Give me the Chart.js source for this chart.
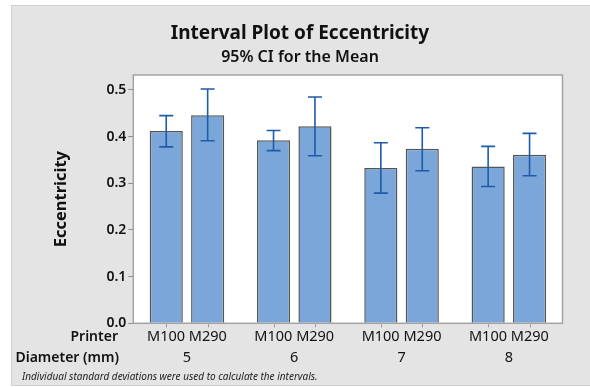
<!DOCTYPE html>
<html>
<head>
<meta charset="utf-8">
<script src="https://cdn.jsdelivr.net/npm/chart.js@4.4.1/dist/chart.umd.min.js"></script>
<style>
html, body { margin: 0; padding: 0; background: #fff; }
#wrap { width: 590px; height: 387px; }
</style>
</head>
<body>
<div id="wrap"><canvas id="chart"></canvas></div>
<script>
// Data
const diameters = ['5', '6', '7', '8'];
const printers = ['M100', 'M290'];
const m100Mean = [0.412, 0.392, 0.333, 0.336];
const m100Lower = [0.378, 0.370, 0.279, 0.293];
const m100Upper = [0.445, 0.413, 0.387, 0.379];
const m290Mean = [0.446, 0.422, 0.374, 0.361];
const m290Lower = [0.391, 0.359, 0.327, 0.316];
const m290Upper = [0.502, 0.485, 0.419, 0.407];
const yTicks = [0, 0.1, 0.2, 0.3, 0.4, 0.5];

const fontFamily = "'Noto Sans', 'Open Sans', sans-serif";
Chart.defaults.font.family = fontFamily;
Chart.defaults.color = '#111';

// Panel background, white plot area and frame
const panelPlugin = {
    id: 'panel',
    beforeDraw(chart) {
        const c = chart.ctx;
        const a = chart.chartArea;
        c.save();
        c.fillStyle = '#fff';
        c.fillRect(0, 0, chart.width, chart.height);
        c.fillStyle = '#e4e4e4';
        c.fillRect(11, 5, chart.width - 11, chart.height - 7);
        c.strokeStyle = '#d0d0d0';
        c.lineWidth = 1;
        c.strokeRect(11.5, 5.5, chart.width - 11, chart.height - 7);
        c.fillStyle = '#fff';
        c.fillRect(a.left, a.top, a.right - a.left, a.bottom - a.top);
        c.restore();
    },
    afterDraw(chart) {
        const c = chart.ctx;
        const a = chart.chartArea;
        const x = chart.scales.x;
        c.save();
        c.strokeStyle = '#a3a3a3';
        c.lineWidth = 1.5;
        c.strokeRect(a.left, a.top, a.right - a.left, a.bottom - a.top);
        // small ticks under each bar
        c.strokeStyle = '#999';
        c.lineWidth = 1;
        chart.data.datasets.forEach((ds, i) => {
            chart.getDatasetMeta(i).data.forEach(bar => {
                c.beginPath();
                c.moveTo(Math.round(bar.x) + 0.5, a.bottom + 1);
                c.lineTo(Math.round(bar.x) + 0.5, a.bottom + 4);
                c.stroke();
            });
        });
        // row labels on the left of the x axis
        const pad = x.options.ticks.padding;
        const lh = 21;
        c.fillStyle = '#111';
        c.textAlign = 'right';
        c.textBaseline = 'middle';
        c.font = '600 14px ' + fontFamily;
        c.fillText('Printer', 118, x.top + pad + lh / 2);
        c.fillText('Diameter (mm)', 119, x.top + pad + lh * 1.5);
        // footnote
        c.textAlign = 'left';
        c.font = 'italic 10px ' + fontFamily;
        c.fillStyle = '#222';
        c.fillText('Individual standard deviations were used to calculate the intervals.', 22, 377);
        c.restore();
    }
};

// 95% CI error bars
const errorBarPlugin = {
    id: 'errorBars',
    afterDatasetsDraw(chart) {
        const c = chart.ctx;
        const y = chart.scales.y;
        c.save();
        c.strokeStyle = '#1f5ba8';
        c.lineWidth = 1.6;
        chart.data.datasets.forEach((ds, i) => {
            chart.getDatasetMeta(i).data.forEach((bar, j) => {
                const yl = y.getPixelForValue(ds.lower[j]);
                const yu = y.getPixelForValue(ds.upper[j]);
                const bx = bar.x;
                c.beginPath();
                c.moveTo(bx, yl); c.lineTo(bx, yu);
                c.moveTo(bx - 7, yl); c.lineTo(bx + 7, yl);
                c.moveTo(bx - 7, yu); c.lineTo(bx + 7, yu);
                c.stroke();
            });
        });
        c.restore();
    }
};

const barStyle = {
    backgroundColor: '#7ba6d9',
    borderColor: '#555',
    borderWidth: 1.5,
    categoryPercentage: 0.772,
    barPercentage: 0.8
};

const ctx = document.getElementById('chart').getContext('2d');
const chart = new Chart(ctx, {
    type: 'bar',
    data: {
        labels: diameters.map(d => [printers.join(' '), d]),
        datasets: [
            Object.assign({ label: printers[0], data: m100Mean, lower: m100Lower, upper: m100Upper }, barStyle),
            Object.assign({ label: printers[1], data: m290Mean, lower: m290Lower, upper: m290Upper }, barStyle)
        ]
    },
    options: {
        responsive: true,
        maintainAspectRatio: false,
        animation: false,
        devicePixelRatio: 1,
        layout: { padding: { left: 37.5, right: 27.5, top: 0, bottom: 18.7 } },
        plugins: {
            legend: { display: false },
            tooltip: { enabled: false },
            title: {
                display: true,
                text: 'Interval Plot of Eccentricity',
                font: { size: 19, weight: 'bold' },
                color: '#111',
                padding: { top: 22.6, bottom: 2 }
            },
            subtitle: {
                display: true,
                text: '95% CI for the Mean',
                font: { size: 16, weight: '600' },
                color: '#111',
                padding: { top: 0, bottom: 8.4 }
            }
        },
        scales: {
            x: {
                grid: { display: false, drawTicks: false },
                border: { display: false },
                afterFit(scale) { scale.height = 45; },
                ticks: {
                    font: { size: 14.5, lineHeight: 21 / 14.5 },
                    color: '#111',
                    padding: 3,
                    maxRotation: 0,
                    autoSkip: false
                }
            },
            y: {
                min: 0,
                max: 0.532,
                afterBuildTicks(scale) {
                    scale.ticks = yTicks.map(v => ({ value: v }));
                },
                afterFit(scale) { scale.width = 95.8; },
                grid: { drawOnChartArea: false, drawTicks: true, tickLength: 5, color: '#8c8c8c' },
                border: { display: false },
                ticks: {
                    font: { size: 14, weight: '600' },
                    color: '#111',
                    padding: 2,
                    callback: v => v.toFixed(1)
                },
                title: {
                    display: true,
                    text: 'Eccentricity',
                    font: { size: 16.5, weight: 'bold' },
                    color: '#111',
                    padding: { top: 14, bottom: 0 }
                }
            }
        }
    },
    plugins: [panelPlugin, errorBarPlugin]
});
</script>
</body>
</html>
